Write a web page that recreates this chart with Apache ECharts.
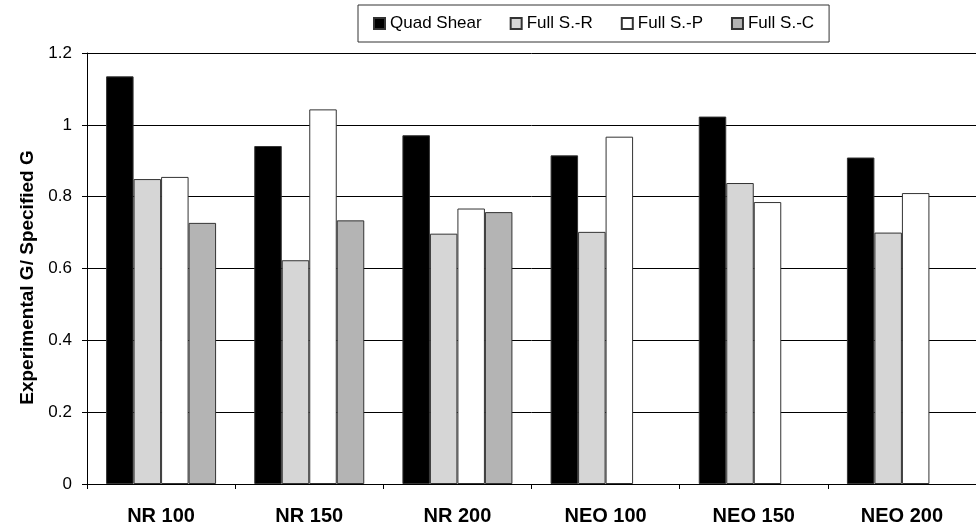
<!DOCTYPE html>
<html>
<head>
<meta charset="utf-8">
<script src="https://cdn.jsdelivr.net/npm/echarts@6/dist/echarts.min.js"></script>
<style>
  html, body { margin: 0; padding: 0; background: #fff; }
  #chart { width: 976px; height: 531px; }
</style>
</head>
<body>
<div id="chart"></div>
<script>
// Specimen groups along the x axis
const categories = ['NR 100', 'NR 150', 'NR 200', 'NEO 100', 'NEO 150', 'NEO 200'];

// Ratio of experimental to specified shear modulus for each test method
const quadShear = [1.135, 0.941, 0.971, 0.915, 1.023, 0.909];
const fullSR    = [0.849, 0.623, 0.697, 0.702, 0.838, 0.700];
const fullSP    = [0.855, 1.043, 0.767, 0.967, 0.785, 0.810];
const fullSC    = [0.727, 0.734, 0.757, null, null, null];

const seriesNames = ['Quad Shear', 'Full S.-R', 'Full S.-P', 'Full S.-C'];
const seriesData = [quadShear, fullSR, fullSP, fullSC];
const seriesColors = ['#000000', '#d6d6d6', '#ffffff', '#b4b4b4'];

const FONT = '"Liberation Sans", Arial, Helvetica, sans-serif';

const chart = echarts.init(document.getElementById('chart'), null, { renderer: 'canvas' });

chart.setOption({
  animation: false,
  backgroundColor: '#ffffff',
  textStyle: { fontFamily: FONT },
  legend: {
    left: 358,
    top: 5,
    padding: [10, 15, 10, 15],
    itemWidth: 11,
    itemHeight: 11,
    itemGap: 28,
    icon: 'rect',
    borderColor: '#333',
    borderWidth: 1,
    textStyle: { fontFamily: FONT, fontSize: 17, color: '#000' },
    data: seriesNames
  },
  grid: {
    left: 87,
    top: 53,
    width: 897,
    height: 431,
    containLabel: false
  },
  xAxis: {
    type: 'category',
    data: categories,
    axisLine: { lineStyle: { color: '#000', width: 1 } },
    axisTick: { show: true, length: 5, lineStyle: { color: '#000' } },
    axisLabel: {
      fontFamily: FONT,
      fontSize: 20,
      fontWeight: 'bold',
      color: '#000',
      margin: 22
    },
    splitLine: { show: false }
  },
  yAxis: {
    type: 'value',
    min: 0,
    max: 1.2,
    interval: 0.2,
    name: 'Experimental G/ Specified G',
    nameLocation: 'middle',
    nameRotate: 90,
    nameGap: 48,
    nameTextStyle: {
      fontFamily: FONT,
      fontSize: 19,
      fontWeight: 'bold',
      color: '#000',
      padding: [0, 18, 0, 0]
    },
    axisLine: { show: true, lineStyle: { color: '#000', width: 1 } },
    axisTick: { show: true, length: 5, lineStyle: { color: '#000' } },
    axisLabel: { fontFamily: FONT, fontSize: 17, color: '#000', margin: 15 },
    splitLine: { show: true, lineStyle: { color: '#000', width: 1 } }
  },
  series: seriesData.map((d, i) => ({
    name: seriesNames[i],
    type: 'bar',
    data: d,
    barWidth: 27.5,
    barGap: '0%',
    itemStyle: {
      color: seriesColors[i],
      borderColor: '#333',
      borderWidth: 1
    }
  }))
});
</script>
</body>
</html>
